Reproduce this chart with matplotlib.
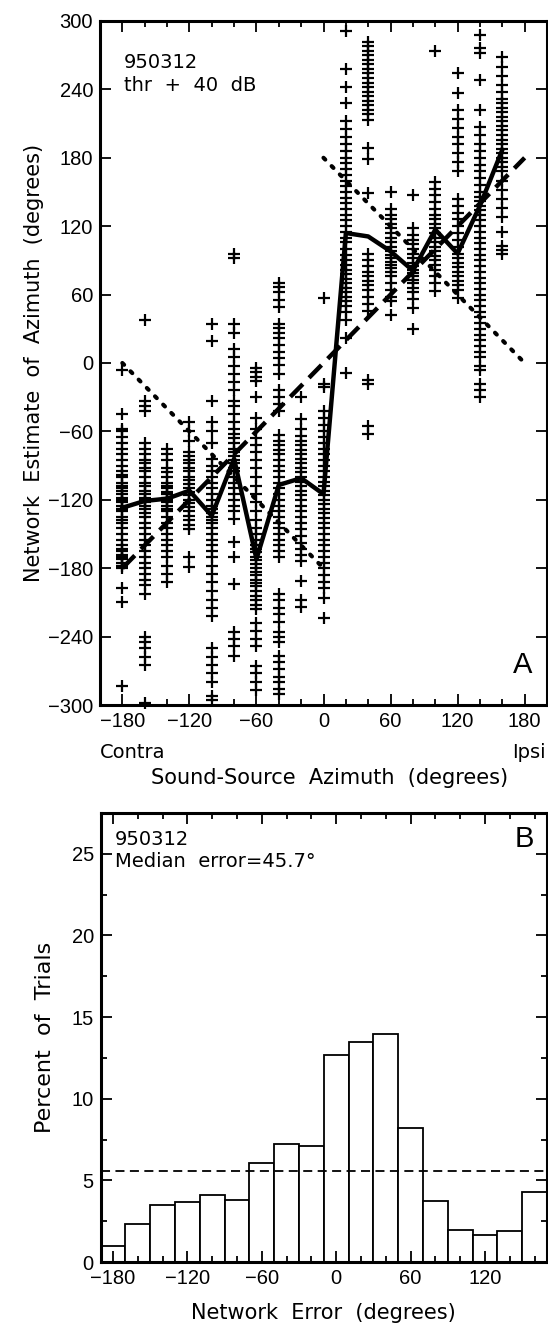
import matplotlib.pyplot as plt
import numpy as np

plt.rcParams['font.family'] = ['Liberation Sans', 'DejaVu Sans']

# Panel A: network estimates for each source azimuth
azimuths = [-180, -160, -140, -120, -100, -80, -60, -40, -20,
            0, 20, 40, 60, 80, 100, 120, 140, 160]

y_m180 = [-6, -45, -58, -60, -65, -70, -75, -80, -85, -90, -95, -98, -100, -105, -108,
          -110, -112, -115, -118, -120, -122, -125, -128, -130, -135, -138, -140, -145,
          -150, -155, -160, -163, -165, -168, -170, -172, -175, -178, -180, -197, -210, -283]
y_m160 = [38, -33, -38, -42, -70, -75, -80, -85, -88, -92, -95, -100, -105, -108, -112,
          -115, -118, -120, -122, -125, -128, -132, -135, -140, -145, -150, -155, -160,
          -165, -170, -175, -180, -185, -190, -195, -203, -240, -245, -250, -258, -265, -298]
y_m140 = [-75, -80, -85, -92, -96, -100, -105, -108, -110, -113, -115, -118, -120, -122,
          -125, -128, -130, -135, -140, -145, -150, -155, -160, -165, -170, -178, -185, -192]
y_m120 = [-52, -60, -68, -78, -82, -85, -88, -92, -95, -100, -103, -106, -110, -113, -116,
          -120, -123, -126, -130, -134, -138, -142, -146, -170, -179]
y_m100 = [34, 19, -33, -52, -60, -70, -84, -90, -95, -100, -105, -110, -115, -120, -125,
          -128, -132, -135, -138, -140, -145, -150, -155, -160, -165, -170, -178, -185,
          -192, -200, -208, -215, -222, -250, -258, -265, -272, -280, -292, -296]
y_m80 = [96, 92, 34, 26, 12, 5, -3, -10, -17, -24, -33, -38, -45, -52, -58, -62, -66, -70,
         -75, -78, -82, -85, -88, -92, -95, -100, -105, -110, -115, -120, -125, -130, -137,
         -157, -170, -194, -236, -242, -248, -257]
y_m60 = [-4, -8, -12, -16, -30, -48, -58, -66, -72, -78, -85, -92, -100, -108, -115, -122,
         -130, -138, -145, -150, -155, -160, -163, -166, -170, -173, -176, -180, -183, -186,
         -190, -193, -196, -200, -204, -208, -212, -216, -228, -235, -242, -248, -266, -272,
         -280, -287]
y_m40 = [70, 67, 62, 55, 49, 34, 31, 26, 22, 16, 10, 4, -2, -10, -24, -30, -36, -42, -63,
         -68, -72, -76, -80, -85, -90, -95, -100, -105, -110, -115, -120, -125, -130, -135,
         -140, -145, -150, -155, -160, -165, -170, -203, -208, -215, -220, -227, -236, -240,
         -245, -257, -262, -268, -275, -280, -286, -290]
y_m20 = [-30, -49, -58, -64, -68, -72, -76, -80, -84, -88, -92, -96, -100, -104, -108, -112,
         -116, -120, -125, -130, -135, -140, -146, -152, -158, -163, -168, -174, -191, -208, -214]
y_0 = [57, -18, -21, -42, -48, -54, -60, -65, -70, -75, -80, -85, -90, -95, -100, -104, -108,
       -112, -116, -120, -124, -128, -132, -136, -140, -145, -150, -155, -160, -165, -170,
       -175, -180, -186, -192, -197, -206, -224]
y_20 = [291, 258, 242, 228, 212, 205, 198, 192, 186, 180, 175, 170, 165, 160, 155, 150, 145,
        140, 135, 130, 125, 120, 115, 110, 106, 100, 95, 90, 86, 82, 78, 74, 70, 66, 62, 58,
        54, 50, 45, 38, 22, -9]
y_40 = [282, 278, 274, 270, 266, 262, 258, 254, 250, 246, 242, 238, 234, 230, 226, 222, 218,
        213, 189, 179, 149, 96, 90, 85, 80, 76, 72, 68, 64, 58, 52, 46, -15, -18, -55, -62]
y_60 = [150, 135, 130, 126, 122, 118, 114, 110, 106, 102, 98, 95, 92, 89, 86, 83, 80, 76, 70,
        64, 58, 54, 42]
y_80 = [147, 118, 112, 108, 104, 100, 96, 92, 88, 85, 82, 79, 76, 73, 70, 66, 62, 56, 48, 30]
y_100 = [274, 159, 153, 147, 141, 135, 130, 126, 122, 118, 114, 110, 106, 102, 98, 94, 90,
         86, 82, 76, 70, 63]
y_120 = [254, 237, 222, 214, 206, 198, 192, 184, 176, 168, 144, 138, 132, 126, 120, 114, 108,
         102, 96, 92, 88, 84, 80, 76, 72, 68, 64, 57]
y_140 = [288, 276, 272, 248, 222, 207, 200, 192, 186, 180, 174, 168, 162, 156, 150, 146, 142,
         138, 134, 130, 125, 120, 115, 110, 105, 100, 95, 90, 85, 80, 75, 70, 65, 60, 55, 50,
         45, 40, 35, 30, 25, 20, 15, 10, 5, -3, -6, -18, -24, -30]
y_160 = [268, 260, 252, 244, 238, 232, 228, 224, 220, 216, 212, 208, 204, 200, 196, 192, 188,
         184, 180, 176, 172, 168, 160, 152, 144, 136, 128, 115, 103, 99, 96]

columns = [y_m180, y_m160, y_m140, y_m120, y_m100, y_m80, y_m60, y_m40, y_m20,
           y_0, y_20, y_40, y_60, y_80, y_100, y_120, y_140, y_160]

median_est = [-127, -121, -119, -112, -134, -84, -172, -107, -101,
              -115, 114, 111, 98, 81, 117, 96, 138, 187]

ideal_x = [-180, 180]
mirror_left_x = [-180, 0]
mirror_left_y = [0, -180]
mirror_right_x = [0, 180]
mirror_right_y = [180, 0]

# Panel B: histogram of network error
err_centers = [-180, -160, -140, -120, -100, -80, -60, -40, -20,
               0, 20, 40, 60, 80, 100, 120, 140, 160]
err_pct = [1.0, 2.3, 3.5, 3.65, 4.1, 3.8, 6.05, 7.2, 7.1,
           12.7, 13.5, 13.95, 8.2, 3.75, 1.95, 1.65, 1.88, 4.3]
chance_pct = 5.6

fig = plt.figure(figsize=(5.48, 13.28), dpi=100)
fs = 14.5
wide = ['DejaVu Sans']
lfs = 15

def style_axes(ax):
    for sp in ax.spines.values():
        sp.set_linewidth(2.2)
    ax.tick_params(which='both', direction='in', top=True, right=True,
                   labelsize=fs, width=1.3, pad=5)
    ax.tick_params(which='major', length=8)
    ax.tick_params(which='minor', length=4)

# ---- Panel A
ax1 = fig.add_axes([100 / 548, 1 - 705 / 1328, 447 / 548, 684 / 1328])
for az, ys in zip(azimuths, columns):
    ax1.plot([az] * len(ys), ys, '+', color='black', ms=8, mew=1.6, clip_on=False)
ax1.plot(azimuths, median_est, '-', color='black', lw=3.2)
ax1.plot(ideal_x, ideal_x, '--', color='black', lw=3.2, dashes=(4, 2))
ax1.plot(mirror_left_x, mirror_left_y, ':', color='black', lw=3, dashes=(0.6, 2.2),
         dash_capstyle='round')
ax1.plot(mirror_right_x, mirror_right_y, ':', color='black', lw=3, dashes=(0.6, 2.2),
         dash_capstyle='round')
ax1.set_xlim(-200, 200)
ax1.set_ylim(-300, 300)
ax1.set_xticks(range(-180, 181, 60))
ax1.set_xticks(range(-180, 181, 20), minor=True)
ax1.set_yticks(range(-300, 301, 60))
ax1.set_xticklabels(['\u2212180', '\u2212120', '\u221260', '0', '60', '120', '180'])
ax1.set_yticklabels(['\u2212300', '\u2212240', '\u2212180', '\u2212120', '\u221260',
                     '0', '60', '120', '180', '240', '300'])
style_axes(ax1)
ax1.set_ylabel('Network  Estimate  of  Azimuth  (degrees)', fontsize=lfs, family=wide,
               labelpad=3)
ax1.text(0.054, 0.939, '950312', transform=ax1.transAxes, fontsize=14, family=wide,
         va='center')
ax1.text(0.054, 0.905, 'thr  +  40  dB', transform=ax1.transAxes, fontsize=14, family=wide,
         va='center')
ax1.text(0.946, 0.058, 'A', transform=ax1.transAxes, fontsize=21, ha='center', va='center')
fig.text(100 / 548, 1 - 752 / 1328, 'Contra', fontsize=14, family=wide, va='center')
fig.text(546 / 548, 1 - 752 / 1328, 'Ipsi', fontsize=14, family=wide, va='center', ha='right')
fig.text(330 / 548, 1 - 778 / 1328, 'Sound-Source  Azimuth  (degrees)', fontsize=lfs,
         family=wide, ha='center', va='center')

# ---- Panel B
ax2 = fig.add_axes([100.7 / 548, 1 - 1262 / 1328, 446.3 / 548, 449 / 1328])
ax2.bar(err_centers, err_pct, width=20, color='white', edgecolor='black', linewidth=1.3)
ax2.axhline(chance_pct, color='black', lw=1.3, ls='--', dashes=(5, 3))
ax2.set_xlim(-190, 170)
ax2.set_ylim(0, 27.5)
ax2.set_xticks(range(-180, 121, 60))
ax2.set_xticks(range(-180, 170, 20), minor=True)
ax2.set_yticks(range(0, 26, 5))
ax2.set_yticks(np.arange(0, 27.5, 2.5), minor=True)
ax2.set_xticklabels(['\u2212180', '\u2212120', '\u221260', '0', '60', '120'])
style_axes(ax2)
ax2.set_ylabel('Percent  of  Trials', fontsize=lfs + 1, family=wide, labelpad=12)
ax2.set_xlabel('Network  Error  (degrees)', fontsize=lfs, family=wide, labelpad=11)
ax2.text(0.032, 0.942, '950312', transform=ax2.transAxes, fontsize=14, family=wide,
         va='center')
ax2.text(0.032, 0.891, 'Median  error=45.7\u00b0', transform=ax2.transAxes, fontsize=14,
         family=wide, va='center')
ax2.text(0.949, 0.942, 'B', transform=ax2.transAxes, fontsize=21, ha='center', va='center')

fig.savefig('out.png', dpi=100)
